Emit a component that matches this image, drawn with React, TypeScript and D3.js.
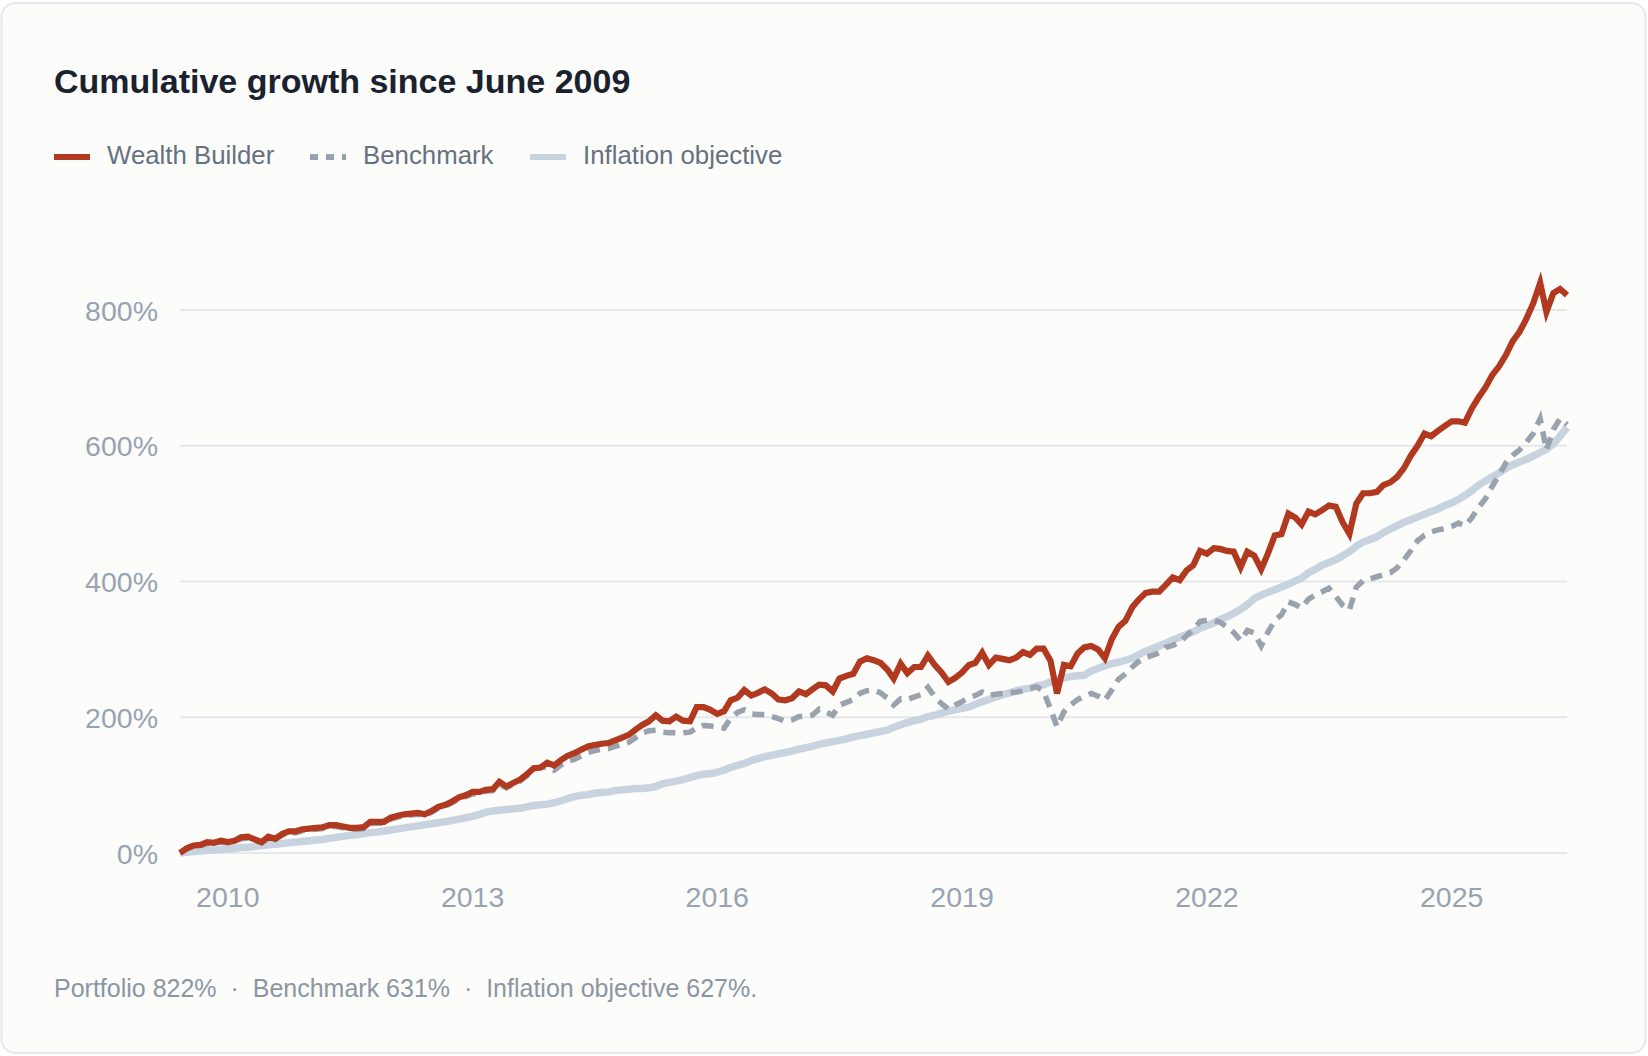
import { useEffect, useRef } from 'react';
import * as d3 from 'd3';

// Monthly observations, June 2009 to June 2026 (cumulative growth, %)
const startMonth = new Date(2009, 5, 1);
const endMonth = new Date(2026, 5, 1);

const portfolio = [
  0, 7, 11, 12, 16, 15, 18, 16, 18, 23, 24, 20, 16, 24, 21, 28, 32, 32, 35, 36,
  37, 38, 41, 41, 39, 37, 37, 38, 46, 46, 46, 52, 55, 57, 58, 59, 57, 62, 68, 71,
  76, 82, 85, 90, 90, 93, 94, 105, 98, 103, 108, 116, 125, 126, 133, 129, 137, 143, 147, 152,
  157, 159, 161, 162, 166, 170, 174, 182, 189, 194, 203, 195, 194, 201, 195, 194, 215, 215, 211, 205,
  209, 225, 229, 240, 232, 236, 241, 235, 226, 225, 228, 238, 234, 241, 248, 247, 238, 257, 261, 264,
  282, 287, 284, 280, 270, 257, 279, 265, 274, 274, 291, 277, 266, 252, 258, 266, 277, 280, 295, 277,
  288, 286, 284, 288, 296, 292, 301, 301, 283, 235, 277, 275, 294, 303, 305, 300, 287, 315, 333, 342,
  362, 373, 383, 385, 385, 395, 406, 402, 416, 424, 445, 441, 449, 448, 445, 444, 421, 444, 438, 418,
  441, 468, 470, 500, 494, 484, 503, 499, 505, 512, 510, 487, 470, 515, 530, 530, 532, 542, 546, 554,
  567, 585, 600, 618, 614, 622, 629, 636, 636, 634, 655, 671, 686, 704, 717, 734, 754, 768, 787, 810,
  840, 797, 825, 831, 822,
];

const benchmark = [
  0, 6, 10, 11, 14, 14, 16, 15, 17, 21, 22, 19, 15, 22, 20, 26, 30, 30, 33, 34,
  35, 36, 39, 39, 37, 35, 35, 36, 43, 44, 44, 50, 53, 55, 56, 57, 55, 60, 66, 69,
  74, 80, 83, 87, 88, 91, 92, 101, 96, 101, 106, 114, 124, 126, 127, 122, 130, 135, 138, 143,
  148, 151, 153, 154, 157, 160, 163, 170, 177, 180, 181, 178, 177, 177, 177, 178, 184, 188, 187, 186,
  184, 199, 207, 211, 205, 204, 204, 201, 198, 194, 196, 201, 201, 203, 212, 208, 203, 218, 222, 226,
  235, 239, 240, 236, 228, 218, 227, 226, 230, 233, 244, 230, 220, 212, 218, 223, 229, 232, 237, 232,
  234, 235, 236, 237, 239, 242, 245, 238, 212, 186, 208, 218, 226, 231, 235, 231, 225, 240, 256, 264,
  274, 282, 288, 291, 295, 303, 306, 310, 320, 329, 341, 343, 343, 340, 333, 325, 313, 328, 324, 305,
  325, 343, 351, 370, 366, 361, 374, 380, 385, 390, 378, 365, 358, 392, 401, 404, 407, 410, 413, 420,
  432, 445, 460, 468, 473, 476, 478, 481, 486, 482, 494, 509, 522, 540, 557, 575, 586, 594, 605, 618,
  640, 594, 624, 640, 631,
];

const inflation = [
  0, 1, 2, 3, 4, 4.5, 5, 6, 7, 8, 8.5, 9.5, 11, 12, 13, 14, 15, 16, 17, 18,
  19, 20, 21.5, 23, 24.5, 26, 27, 28.5, 30, 31, 32.5, 34, 35.5, 37, 38.5, 40, 41.5, 43, 44.5, 46,
  48, 50, 52, 54, 57, 60, 62, 63, 64, 65, 66, 68, 70, 71, 72, 74, 77, 80, 83, 85,
  86, 88, 89, 90, 92, 93, 94, 95, 95, 96, 98, 102, 104, 106, 108, 111, 114, 116, 117, 119,
  122, 126, 129, 132, 136, 139, 142, 144, 146, 148, 150, 153, 155, 157, 160, 162, 164, 166, 168, 171,
  173, 175, 177, 179, 181, 185, 189, 192, 195, 197, 201, 203, 206, 209, 211, 213, 215, 219, 223, 226,
  230, 233, 236, 239, 241, 243, 246, 248, 252, 255, 258, 260, 261, 262, 268, 272, 276, 279, 281, 284,
  287, 292, 297, 301, 305, 309, 314, 318, 322, 326, 331, 335, 339, 344, 348, 353, 359, 366, 375, 380,
  384, 388, 392, 396, 401, 405, 413, 418, 424, 428, 432, 438, 444, 452, 458, 462, 466, 472, 477, 482,
  487, 491, 495, 499, 503, 507, 512, 516, 521, 527, 534, 542, 548, 554, 560, 567, 572, 576, 580, 585,
  590, 595, 603, 614, 627,
];

const yTicks = [0, 200, 400, 600, 800];
const xTickYears = [2010, 2013, 2016, 2019, 2022, 2025];

const seriesNames = ['Wealth Builder', 'Benchmark', 'Inflation objective'];
const footerParts = ['Portfolio 822%', 'Benchmark 631%', 'Inflation objective 627%.'];

const FONT = "'Liberation Sans', Arial, Helvetica, sans-serif";
const RED = '#b1391f';
const GREY = '#9aa3ad';
const BLUE = '#c8d3e0';

export default function App() {
  const ref = useRef<SVGSVGElement | null>(null);

  useEffect(() => {
    if (!ref.current) return;
    const W = 1648;
    const H = 1056;
    const svg = d3.select(ref.current);
    svg.selectAll('*').remove();
    svg.attr('width', W).attr('height', H).attr('viewBox', `0 0 ${W} ${H}`);

    // card
    svg.append('rect')
      .attr('x', 1.5).attr('y', 3)
      .attr('width', 1644).attr('height', 1050)
      .attr('rx', 14)
      .attr('fill', '#fcfcfa')
      .attr('stroke', '#e6e8eb')
      .attr('stroke-width', 2);

    // title
    svg.append('text')
      .attr('x', 54).attr('y', 93)
      .attr('font-family', FONT)
      .attr('font-size', 34)
      .attr('font-weight', 700)
      .attr('fill', '#1a2230')
      .text('Cumulative growth since June 2009');

    // legend
    const legend = svg.append('g').attr('font-family', FONT).attr('font-size', 25.8).attr('fill', '#66717f');
    const legendX = [54, 310, 530];
    const legendStyles = [
      { color: RED, dash: null },
      { color: GREY, dash: '8 8' },
      { color: BLUE, dash: null },
    ];
    seriesNames.forEach((name, i) => {
      legend.append('line')
        .attr('x1', legendX[i]).attr('x2', legendX[i] + 36)
        .attr('y1', 157).attr('y2', 157)
        .attr('stroke', legendStyles[i].color)
        .attr('stroke-width', 6)
        .attr('stroke-dasharray', legendStyles[i].dash);
      legend.append('text')
        .attr('x', legendX[i] + 53).attr('y', 164)
        .text(name);
    });

    // scales
    const dates = d3.timeMonth.range(startMonth, d3.timeMonth.offset(endMonth, 1));
    const x = d3.scaleTime().domain([startMonth, endMonth]).range([180, 1567]);
    const y = d3.scaleLinear().domain([0, 900]).range([853, 242.125]);

    // grid
    svg.append('g')
      .selectAll('line')
      .data(yTicks)
      .join('line')
      .attr('x1', 180).attr('x2', 1567)
      .attr('y1', (d) => y(d)).attr('y2', (d) => y(d))
      .attr('stroke', '#e5e7eb')
      .attr('stroke-width', 2);

    // y axis labels
    svg.append('g')
      .selectAll('text')
      .data(yTicks)
      .join('text')
      .attr('x', 158)
      .attr('y', (d) => y(d) + 10.5)
      .attr('text-anchor', 'end')
      .attr('font-family', FONT)
      .attr('font-size', 28.5)
      .attr('fill', '#97a3b3')
      .text((d) => `${d}%`);

    // x axis labels
    svg.append('g')
      .selectAll('text')
      .data(xTickYears)
      .join('text')
      .attr('x', (d) => x(new Date(d, 0, 1)))
      .attr('y', 907)
      .attr('text-anchor', 'middle')
      .attr('font-family', FONT)
      .attr('font-size', 28.5)
      .attr('fill', '#97a3b3')
      .text((d) => String(d));

    const line = d3.line<number>()
      .x((_, i) => x(dates[i]))
      .y((d) => y(d));

    svg.append('path')
      .datum(inflation)
      .attr('fill', 'none')
      .attr('stroke', BLUE)
      .attr('stroke-width', 7.5)
      .attr('stroke-linejoin', 'round')
      .attr('d', line);

    svg.append('path')
      .datum(benchmark)
      .attr('fill', 'none')
      .attr('stroke', GREY)
      .attr('stroke-width', 5.5)
      .attr('stroke-dasharray', '12 8')
      .attr('d', line);

    svg.append('path')
      .datum(portfolio)
      .attr('fill', 'none')
      .attr('stroke', RED)
      .attr('stroke-width', 6.2)
      .attr('d', line);

    // footer
    svg.append('text')
      .attr('x', 54).attr('y', 997)
      .attr('font-family', FONT)
      .attr('font-size', 25)
      .attr('fill', '#8c96a3')
      .text(footerParts.join('\u00a0\u00a0·\u00a0\u00a0'));
  }, []);

  return (
    <>
      <style>{`body{margin:0;background:#ffffff}`}</style>
      <svg ref={ref} style={{ display: 'block' }}></svg>
    </>
  );
}
